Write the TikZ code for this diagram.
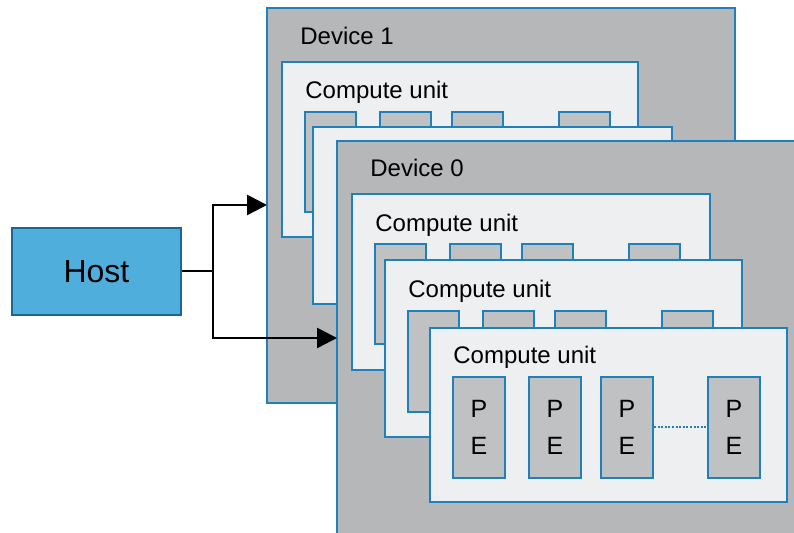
\documentclass[tikz,border=0pt]{standalone}
\usepackage{fontspec}
\setmainfont{Liberation Sans}
\usetikzlibrary{fit, arrows.meta}

\definecolor{edgeblue}{RGB}{32,128,188}
\definecolor{devgray}{RGB}{181,183,185}
\definecolor{cufill}{RGB}{238,239,240}
\definecolor{pegray}{RGB}{192,193,195}
\definecolor{hostblue}{RGB}{80,174,220}

\begin{document}
\begin{tikzpicture}[x=0.5pt, y=-0.5pt,
    device/.style={draw=edgeblue, line width=1pt, fill=devgray, inner sep=0pt},
    cunit/.style={draw=edgeblue, line width=1pt, fill=cufill, inner sep=0pt},
    pebox/.style={draw=edgeblue, line width=1pt, fill=pegray, inner sep=0pt},
    petext/.style={inner sep=0pt, align=center, font=\fontsize{12.5}{18.5}\selectfont},
    lbl/.style={inner sep=0pt, anchor=base west, font=\fontsize{12}{15}\selectfont},
    link/.style={line width=1.3pt, -{Triangle[length=10pt, width=10pt]}}]
    \useasboundingbox (0,0) rectangle (794,533);
    \clip (0,0) rectangle (794,533);

    % Host
    \node[draw=edgeblue!80!black, line width=0.6pt, fill=hostblue, inner sep=0pt,
        fit={(12,228) (181,315)}] (host) {};
    \node[inner sep=0pt, font=\fontsize{16}{19}\selectfont] (host-lbl) at (host.center) {Host};

    % Device 1
    \node[device, fit={(267,8) (735,403)}] (dev1) {};
    \node[lbl] (dev1-lbl) at (300,45) {Device 1};

    \node[cunit, fit={(282,62) (638,237)}] (dev1-cu1) {};
    \node[lbl] (dev1-cu1-lbl) at (305,99) {Compute unit};
    \foreach \dx [count=\i] in {23,98,170,277}
        \node[pebox, fit={(282+\dx,112) (333+\dx,212)}] (dev1-cu1-pe\i) {};

    \node[cunit, fit={(313,127) (672,304)}] (dev1-cu2) {};

    % Device 0
    \node[device, fit={(337,141) (810,550)}] (dev0) {};
    \node[lbl] (dev0-lbl) at (370,177) {Device 0};

    \node[cunit, fit={(352,194) (710,370)}] (dev0-cu1) {};
    \node[lbl] (dev0-cu1-lbl) at (375,232) {Compute unit};
    \foreach \dx [count=\i] in {23,98,170,277}
        \node[pebox, fit={(352+\dx,244) (403+\dx,344)}] (dev0-cu1-pe\i) {};

    \node[cunit, fit={(385,260) (742,437)}] (dev0-cu2) {};
    \node[lbl] (dev0-cu2-lbl) at (408,298) {Compute unit};
    \foreach \dx [count=\i] in {23,98,170,277}
        \node[pebox, fit={(385+\dx,311) (436+\dx,412)}] (dev0-cu2-pe\i) {};

    \node[cunit, fit={(430,328) (787,502)}] (dev0-cu3) {};
    \node[lbl] (dev0-cu3-lbl) at (453,364) {Compute unit};
    \foreach \dx [count=\i] in {23,99,171,278} {
        \node[pebox, fit={(430+\dx,377) (482+\dx,478)}] (dev0-cu3-pe\i) {};
        \node[petext] (dev0-cu3-pe\i-lbl) at (dev0-cu3-pe\i.center) {P\\E};
    }

    \draw[edgeblue, line width=1pt, dash pattern=on 1pt off 0.8pt] (dev0-cu3-pe3.east) -- (dev0-cu3-pe4.west);

    % Host links
    \coordinate (branch) at (213,271);
    \coordinate (in1) at (267,205);
    \coordinate (in0) at (337,338);
    \draw[line width=1.3pt] (host.east |- branch) -- (branch);
    \draw[link] (branch) |- (in1);
    \draw[link] (branch) |- (in0);
\end{tikzpicture}
\end{document}
